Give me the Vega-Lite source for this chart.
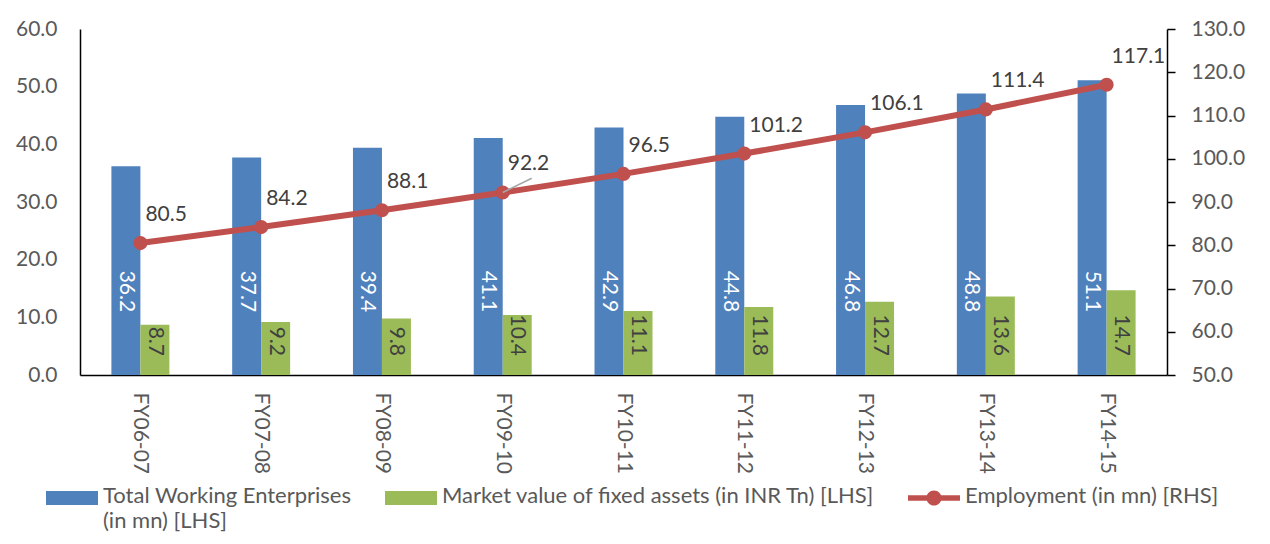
{
  "$schema": "https://vega.github.io/schema/vega-lite/v6.json",
  "width": 1087,
  "height": 346,
  "padding": {"left": 15, "top": 18, "right": 10, "bottom": 5},
  "background": "white",
  "config": {
    "font": "Lato",
    "view": {"stroke": null},
    "axis": {"labelFont": "Lato", "labelFontSize": 21, "labelColor": "#595959", "grid": false, "domainColor": "#000000", "domainWidth": 1.5, "tickColor": "#000000", "tickWidth": 1.5, "title": null},
    "text": {"font": "Lato", "fontSize": 21}
  },
  "data": {"values": [
    {"year": "FY06-07", "series": "Total Working Enterprises (in mn) [LHS]", "value": 36.2},
    {"year": "FY06-07", "series": "Market value of fixed assets (in INR Tn) [LHS]", "value": 8.7},
    {"year": "FY06-07", "series": "Employment (in mn) [RHS]", "value": 80.5},
    {"year": "FY07-08", "series": "Total Working Enterprises (in mn) [LHS]", "value": 37.7},
    {"year": "FY07-08", "series": "Market value of fixed assets (in INR Tn) [LHS]", "value": 9.2},
    {"year": "FY07-08", "series": "Employment (in mn) [RHS]", "value": 84.2},
    {"year": "FY08-09", "series": "Total Working Enterprises (in mn) [LHS]", "value": 39.4},
    {"year": "FY08-09", "series": "Market value of fixed assets (in INR Tn) [LHS]", "value": 9.8},
    {"year": "FY08-09", "series": "Employment (in mn) [RHS]", "value": 88.1},
    {"year": "FY09-10", "series": "Total Working Enterprises (in mn) [LHS]", "value": 41.1},
    {"year": "FY09-10", "series": "Market value of fixed assets (in INR Tn) [LHS]", "value": 10.4},
    {"year": "FY09-10", "series": "Employment (in mn) [RHS]", "value": 92.2},
    {"year": "FY10-11", "series": "Total Working Enterprises (in mn) [LHS]", "value": 42.9},
    {"year": "FY10-11", "series": "Market value of fixed assets (in INR Tn) [LHS]", "value": 11.1},
    {"year": "FY10-11", "series": "Employment (in mn) [RHS]", "value": 96.5},
    {"year": "FY11-12", "series": "Total Working Enterprises (in mn) [LHS]", "value": 44.8},
    {"year": "FY11-12", "series": "Market value of fixed assets (in INR Tn) [LHS]", "value": 11.8},
    {"year": "FY11-12", "series": "Employment (in mn) [RHS]", "value": 101.2},
    {"year": "FY12-13", "series": "Total Working Enterprises (in mn) [LHS]", "value": 46.8},
    {"year": "FY12-13", "series": "Market value of fixed assets (in INR Tn) [LHS]", "value": 12.7},
    {"year": "FY12-13", "series": "Employment (in mn) [RHS]", "value": 106.1},
    {"year": "FY13-14", "series": "Total Working Enterprises (in mn) [LHS]", "value": 48.8},
    {"year": "FY13-14", "series": "Market value of fixed assets (in INR Tn) [LHS]", "value": 13.6},
    {"year": "FY13-14", "series": "Employment (in mn) [RHS]", "value": 111.4},
    {"year": "FY14-15", "series": "Total Working Enterprises (in mn) [LHS]", "value": 51.1},
    {"year": "FY14-15", "series": "Market value of fixed assets (in INR Tn) [LHS]", "value": 14.7},
    {"year": "FY14-15", "series": "Employment (in mn) [RHS]", "value": 117.1}
  ]},
  "encoding": {
    "x": {"field": "year", "type": "nominal", "sort": null,
      "scale": {"paddingInner": 0.52, "paddingOuter": 0.26},
      "axis": {"labelAngle": 90, "ticks": false, "tickSize": 0, "labelPadding": 17, "labelAlign": "left", "labelBaseline": "middle"}}
  },
  "layer": [
    {
      "encoding": {
        "y": {"field": "value", "type": "quantitative", "scale": {"domain": [0, 60], "nice": false},
          "axis": {"orient": "left", "values": [0, 10, 20, 30, 40, 50, 60], "format": ".1f", "ticks": false, "tickSize": 0, "labelPadding": 23}}
      },
      "layer": [
        {
          "transform": [{"filter": "datum.series != 'Employment (in mn) [RHS]'"}],
          "mark": {"type": "bar"},
          "encoding": {
            "xOffset": {"field": "series", "type": "nominal", "scale": {"domain": ["Total Working Enterprises (in mn) [LHS]", "Market value of fixed assets (in INR Tn) [LHS]"], "paddingInner": 0, "paddingOuter": 0}},
            "color": {"field": "series", "type": "nominal",
              "scale": {"domain": ["Total Working Enterprises (in mn) [LHS]", "Market value of fixed assets (in INR Tn) [LHS]", "Employment (in mn) [RHS]"], "range": ["#4F81BD", "#9BBB59", "#C0504D"]},
              "legend": {
                "orient": "none", "legendX": -34, "legendY": 443, "direction": "horizontal", "title": null,
                "symbolSize": 2704, "labelFont": "Lato", "labelFontSize": 22, "labelColor": "#595959", "labelLimit": 1000,
                "columnPadding": 33, "labelOffset": 5, "labelBaseline": "top",
                "labelExpr": "datum.label == 'Total Working Enterprises (in mn) [LHS]' ? ['Total Working Enterprises', '(in mn) [LHS]'] : [datum.label, ' ']",
                "encode": {
                  "symbols": {"update": {
                    "shape": {"signal": "datum.value == 'Employment (in mn) [RHS]' ? 'M-1,-0.11H1V0.11H-1Z M0.29,0A0.29,0.29 0 1 1 -0.29,0A0.29,0.29 0 1 1 0.29,0Z' : 'M-1,-0.27H1V0.27H-1Z'"},
                    "fill": {"scale": "color", "field": "value"},
                    "stroke": {"value": "transparent"},
                    "strokeWidth": {"value": 0},
                    "opacity": {"value": 1}
                  }},
                  "labels": {"update": {"dy": {"value": -12}, "lineHeight": {"value": 25}}}
                }
              }}
          }
        },
        {
          "transform": [{"filter": "datum.series == 'Total Working Enterprises (in mn) [LHS]'"}],
          "mark": {"type": "text", "angle": 90, "align": "center", "baseline": "middle", "color": "#FFFFFF", "fontSize": 21},
          "encoding": {
            "xOffset": {"field": "series", "type": "nominal"},
            "y": {"datum": 14.5, "type": "quantitative"},
            "text": {"field": "value", "type": "quantitative", "format": ".1f"}
          }
        },
        {
          "transform": [{"filter": "datum.series == 'Market value of fixed assets (in INR Tn) [LHS]'"}],
          "mark": {"type": "text", "angle": 90, "align": "right", "baseline": "middle", "dx": -19, "color": "#404040", "fontSize": 21},
          "encoding": {
            "xOffset": {"field": "series", "type": "nominal"},
            "y": {"datum": 0, "type": "quantitative"},
            "text": {"field": "value", "type": "quantitative", "format": ".1f"}
          }
        }
      ]
    },
    {
      "transform": [{"filter": "datum.series == 'Employment (in mn) [RHS]'"}],
      "encoding": {
        "y": {"field": "value", "type": "quantitative", "scale": {"domain": [50, 130], "nice": false},
          "axis": {"orient": "right", "values": [50, 60, 70, 80, 90, 100, 110, 120, 130], "format": ".1f", "ticks": true, "tickSize": 8, "labelPadding": 16}}
      },
      "layer": [
        {"mark": {"type": "line", "color": "#C0504D", "strokeWidth": 6}, "encoding": {}},
        {"mark": {"type": "point", "filled": true, "opacity": 1, "size": 200, "shape": "circle"},
          "encoding": {"color": {"field": "series", "type": "nominal"}}},
        {"transform": [{"filter": "datum.year == 'FY09-10'"}],
          "mark": {"type": "rule", "color": "#A6A6A6", "strokeWidth": 1.5, "x2Offset": 29},
          "encoding": {"x2": {"field": "year"}, "y2": {"datum": 95.5}}},
        {"mark": {"type": "text", "align": "left", "baseline": "middle", "dx": 5, "dy": -28, "color": "#404040", "fontSize": 21},
          "encoding": {"text": {"field": "value", "type": "quantitative", "format": ".1f"}}}
      ]
    }
  ],
  "resolve": {"scale": {"y": "independent"}}
}
